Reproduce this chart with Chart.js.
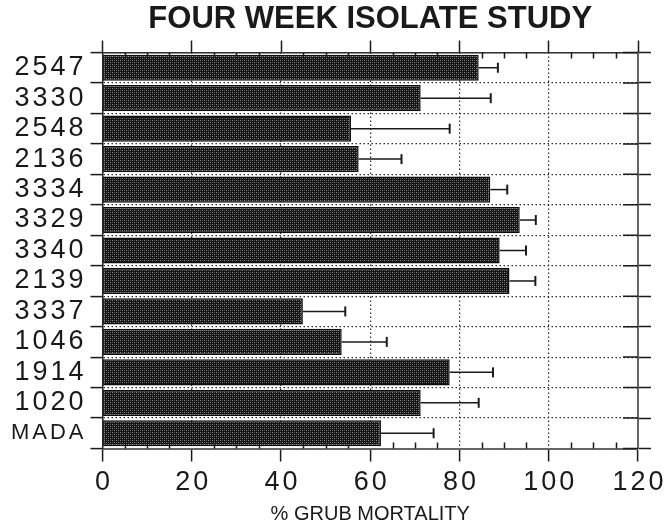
<!DOCTYPE html>
<html>
<head>
<meta charset="utf-8">
<script src="https://cdn.jsdelivr.net/npm/chart.js@4/dist/chart.umd.min.js"></script>
<style>
  html, body { margin: 0; padding: 0; background: #ffffff; }
  #wrap { width: 670px; height: 529px; position: relative; }
</style>
</head>
<body>
<div id="wrap"><canvas id="chart"></canvas></div>
<script>
// Isolates, mean grub mortality (%) and the upper error arm (+ % units)
const isolates = ['2547', '3330', '2548', '2136', '3334', '3329', '3340', '2139', '3337', '1046', '1914', '1020', 'MADA'];
const mortality = [84.3, 71.3, 55.7, 57.4, 86.9, 93.5, 89.0, 91.2, 44.9, 53.6, 77.8, 71.3, 62.4];
const errorPlus = [4.3, 15.7, 22.1, 9.6, 3.8, 3.6, 5.9, 5.8, 9.5, 10.1, 9.7, 13.0, 11.8];
const xTicks = [0, 20, 40, 60, 80, 100, 120];
const minorStep = 5;

const FONT = '"Liberation Sans", Arial, Helvetica, sans-serif';
const INK = '#1a1a1a';

// Stippled dark fill used for every bar
function stipple() {
  const c = document.createElement('canvas');
  c.width = 4; c.height = 4;
  const g = c.getContext('2d');
  g.fillStyle = '#141414';
  g.fillRect(0, 0, 4, 4);
  g.fillStyle = '#8c8c8c';
  [[0, 0], [2, 2]].forEach(([x, y]) => g.fillRect(x, y, 1, 1));
  g.fillStyle = '#505050';
  [[2, 0], [0, 2]].forEach(([x, y]) => g.fillRect(x, y, 1, 1));
  return g.createPattern(c, 'repeat');
}

// Tick labels are set with a little extra tracking
const trackedLabels = {
  id: 'trackedLabels',
  beforeDraw(chart) {
    Object.values(chart.scales).forEach(scale => {
      if (scale._tracked) return;
      const orig = scale.drawLabels;
      scale.drawLabels = function (area) {
        const ctx = this.ctx;
        ctx.save();
        ctx.letterSpacing = '3px';
        if (this.isHorizontal()) ctx.translate(1.5, 0);
        orig.call(this, area);
        ctx.restore();
      };
      scale._tracked = true;
    });
  }
};

// Minor ticks on the top and bottom axes, inner ticks on the right frame
const frameTicks = {
  id: 'frameTicks',
  beforeDatasetsDraw(chart) {
    const { ctx, chartArea } = chart;
    const x = chart.scales.x, y = chart.scales.y;
    ctx.save();
    ctx.strokeStyle = INK;
    ctx.lineWidth = 1.5;
    ctx.beginPath();
    for (let v = x.min; v <= x.max; v += minorStep) {
      if (xTicks.includes(v)) continue;
      const px = Math.round(x.getPixelForValue(v)) + 0.5;
      ctx.moveTo(px, chartArea.bottom);
      ctx.lineTo(px, chartArea.bottom - 6);
      ctx.moveTo(px, chartArea.top);
      ctx.lineTo(px, chartArea.top + 6);
    }
    for (let k = 0; k <= isolates.length; k++) {
      const py = y.getPixelForValue(k - 0.5);
      ctx.moveTo(chartArea.right - 15, py);
      ctx.lineTo(chartArea.right, py);
    }
    ctx.stroke();
    ctx.restore();
  }
};

// One-sided error arms with end caps
const errorArms = {
  id: 'errorArms',
  afterDatasetsDraw(chart) {
    const { ctx } = chart;
    const x = chart.scales.x;
    const meta = chart.getDatasetMeta(0);
    ctx.save();
    ctx.strokeStyle = INK;
    meta.data.forEach((bar, i) => {
      const x0 = bar.x;
      const x1 = x.getPixelForValue(mortality[i] + errorPlus[i]);
      const yc = bar.y;
      ctx.lineWidth = 1.5;
      ctx.beginPath();
      ctx.moveTo(x0, yc);
      ctx.lineTo(x1, yc);
      ctx.stroke();
      ctx.lineWidth = 2;
      ctx.beginPath();
      ctx.moveTo(x1, yc - 5);
      ctx.lineTo(x1, yc + 5);
      ctx.stroke();
    });
    ctx.restore();
  }
};

new Chart(document.getElementById('chart'), {
  type: 'bar',
  data: {
    labels: isolates,
    datasets: [{
      data: mortality,
      backgroundColor: stipple(),
      borderColor: '#0d0d0d',
      borderWidth: 1.5,
      borderSkipped: false,
      barPercentage: 0.86,
      categoryPercentage: 1.0
    }]
  },
  options: {
    indexAxis: 'y',
    responsive: true,
    maintainAspectRatio: false,
    animation: false,
    events: [],
    layout: { padding: 0 },
    plugins: {
      legend: { display: false },
      tooltip: { enabled: false },
      title: {
        display: true,
        text: 'FOUR WEEK ISOLATE STUDY',
        fullSize: false,
        color: INK,
        font: { family: FONT, size: 31, weight: 'bold', lineHeight: 1.2 },
        padding: { top: 1, bottom: 1 }
      }
    },
    scales: {
      x: {
        type: 'linear',
        position: 'bottom',
        min: 0,
        max: 120,
        afterBuildTicks(scale) { scale.ticks = xTicks.map(v => ({ value: v })); },
        ticks: {
          color: INK,
          padding: 5,
          autoSkip: false,
          maxRotation: 0,
          font: { family: FONT, size: 27, lineHeight: 1.2 }
        },
        grid: {
          color: '#2a2a2a',
          lineWidth: 1.2,
          tickLength: 13,
          tickColor: INK,
          tickWidth: 1.5
        },
        border: { display: true, color: '#666', width: 2, dash: [1.5, 2.5] },
        title: {
          display: true,
          text: '% GRUB MORTALITY',
          color: INK,
          font: { family: FONT, size: 20, lineHeight: 1.2 },
          padding: { top: 0, bottom: 3 }
        },
        afterFit(scale) { scale.height = 80.5; }
      },
      x2: {
        type: 'linear',
        position: 'top',
        min: 0,
        max: 120,
        afterBuildTicks(scale) { scale.ticks = xTicks.map(v => ({ value: v })); },
        ticks: { display: false },
        grid: {
          drawOnChartArea: false,
          tickLength: 12,
          tickColor: INK,
          tickWidth: 1.5
        },
        border: { display: true, color: '#333', width: 1.5 },
        afterFit(scale) { scale.height = 13.3; }
      },
      y: {
        type: 'category',
        position: 'left',
        offset: true,
        ticks: {
          color: INK,
          padding: 4,
          autoSkip: false,
          // the reference strain name is set a size smaller than the isolate numbers
          font: (c) => ({
            family: FONT,
            size: (c.tick && /[A-Z]/.test(c.tick.label)) ? 22 : 27,
            lineHeight: 1.2
          })
        },
        grid: {
          offset: true,
          color: '#2a2a2a',
          lineWidth: 1.2,
          tickLength: 12,
          tickColor: INK,
          tickWidth: 1.5
        },
        border: { display: true, color: '#222', width: 1.5, dash: [1.5, 2.5] },
        afterFit(scale) { scale.width = 102.5; }
      },
      y2: {
        type: 'category',
        position: 'right',
        labels: isolates,
        offset: true,
        ticks: { display: false, autoSkip: false },
        grid: {
          offset: true,
          drawOnChartArea: false,
          tickLength: 13,
          tickColor: INK,
          tickWidth: 1.5
        },
        border: { display: true, color: '#666', width: 2 },
        afterFit(scale) { scale.width = 32; }
      }
    }
  },
  plugins: [trackedLabels, frameTicks, errorArms]
});
</script>
</body>
</html>
